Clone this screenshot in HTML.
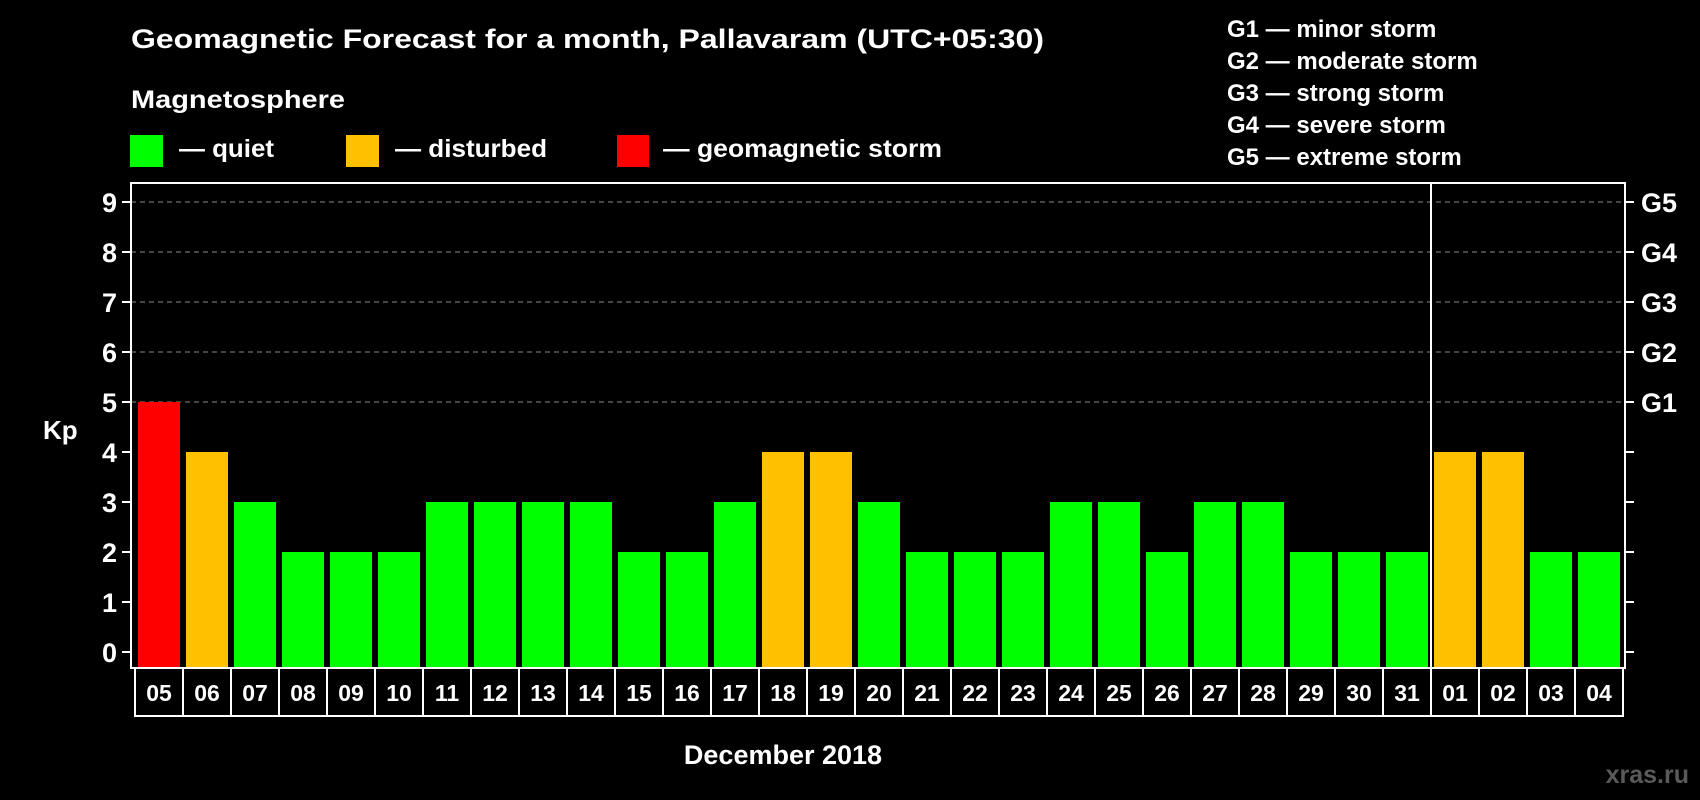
<!DOCTYPE html>
<html><head><meta charset="utf-8"><style>
html,body{margin:0;padding:0;background:#000;}
svg{display:block;font-family:"Liberation Sans",Arial,sans-serif;font-weight:bold;}
</style></head><body>
<svg id="chart" width="1700" height="800" viewBox="0 0 1700 800" xmlns="http://www.w3.org/2000/svg">
<rect x="0" y="0" width="1700" height="800" fill="#000"/>
<text x="131" y="48" font-size="27" fill="#fff" textLength="913" lengthAdjust="spacingAndGlyphs">Geomagnetic Forecast for a month, Pallavaram (UTC+05:30)</text>
<text x="131" y="108" font-size="25" fill="#fff" textLength="214" lengthAdjust="spacingAndGlyphs">Magnetosphere</text>
<g>
<rect x="130" y="135" width="33" height="32" fill="#00ff00"/>
<text x="179" y="157" font-size="25" fill="#fff" textLength="95" lengthAdjust="spacingAndGlyphs">— quiet</text>
</g>
<g>
<rect x="346" y="135" width="33" height="32" fill="#ffc000"/>
<text x="395" y="157" font-size="25" fill="#fff" textLength="152" lengthAdjust="spacingAndGlyphs">— disturbed</text>
</g>
<g>
<rect x="617" y="135" width="32" height="32" fill="#ff0000"/>
<text x="663" y="157" font-size="25" fill="#fff" textLength="279" lengthAdjust="spacingAndGlyphs">— geomagnetic storm</text>
</g>
<g font-size="24" fill="#fff">
<text x="1227" y="37">G1 — minor storm</text>
<text x="1227" y="69">G2 — moderate storm</text>
<text x="1227" y="101">G3 — strong storm</text>
<text x="1227" y="133">G4 — severe storm</text>
<text x="1227" y="165">G5 — extreme storm</text>
</g>
<text x="43" y="439" font-size="26" fill="#fff">Kp</text>
<text x="783" y="764" font-size="27" fill="#fff" text-anchor="middle">December 2018</text>
<text x="1689" y="783" font-size="25" fill="#5a5a5a" text-anchor="end">xras.ru</text>
<g id="grid"></g>
<g id="bars"></g>
<g id="axes"></g>
<g id="xlabels"></g>
</svg>
<script>
const days = ["05","06","07","08","09","10","11","12","13","14","15","16","17","18","19","20","21","22","23","24","25","26","27","28","29","30","31","01","02","03","04"];
const kpValues = [5,4,3,2,2,2,3,3,3,3,2,2,3,4,4,3,2,2,2,3,3,2,3,3,2,2,2,4,4,2,2];
const yTicks = [0,1,2,3,4,5,6,7,8,9];
const gLabels = ["G1","G2","G3","G4","G5"];
const gLevels = [5,6,7,8,9];
const monthBreakIndex = 27;

const NS = "http://www.w3.org/2000/svg";
const plotL = 131, plotR = 1625, plotT = 183, plotB = 668;
const y0 = 652, unit = 50;
const slot = 48, barOff = 138, barW = 42;
function yScale(v){ return y0 - v*unit; }
function xScale(i){ return barOff + i*slot; }
function mk(tag, attrs, parent){ const e=document.createElementNS(NS,tag); for(const k in attrs) e.setAttribute(k,attrs[k]); parent.appendChild(e); return e; }
function colorFor(v){ return v>=5 ? "#ff0000" : (v===4 ? "#ffc000" : "#00ff00"); }

const grid = document.getElementById("grid");
gLevels.forEach((lv)=>{
  const l = mk("line",{x1:plotL,x2:plotR,y1:yScale(lv),y2:yScale(lv),stroke:"#8a8a8a","stroke-width":1,"stroke-dasharray":"5,4"},grid);
  
  
});

const bars = document.getElementById("bars");
kpValues.forEach((v,i)=>{
  const r = mk("rect",{x:xScale(i),y:yScale(v),width:barW,height:plotB-yScale(v),fill:colorFor(v)},bars);
  
  
});

const axes = document.getElementById("axes");
const frame = mk("rect",{x:plotL,y:plotT,width:plotR-plotL,height:plotB-plotT,fill:"none",stroke:"#fff","stroke-width":2},axes);


const sepX = (xScale(monthBreakIndex-1)+barW + xScale(monthBreakIndex))/2;
const sep = mk("line",{x1:sepX,x2:sepX,y1:plotT,y2:plotB,stroke:"#fff","stroke-width":2},axes);


yTicks.forEach((t)=>{
  const y = yScale(t);
  const tl = mk("line",{x1:plotL-9,x2:plotL,y1:y,y2:y,stroke:"#fff","stroke-width":2},axes);
  
  
  const tr = mk("line",{x1:plotR,x2:plotR+9,y1:y,y2:y,stroke:"#fff","stroke-width":2},axes);
  
  
  const tx = mk("text",{x:117,y:y+10,"font-size":27,fill:"#fff","text-anchor":"end"},axes);
  tx.textContent = String(t);
  
  
});
gLevels.forEach((lv,i)=>{
  const tx = mk("text",{x:1641,y:yScale(lv)+10,"font-size":27,fill:"#fff"},axes);
  tx.textContent = gLabels[i];
  
  
});

const xl = document.getElementById("xlabels");
const cellL = 135, cellT = 668, cellB = 716;
days.forEach((d,i)=>{
  const c = mk("rect",{x:cellL+i*slot,y:cellT,width:slot,height:cellB-cellT,fill:"none",stroke:"#fff","stroke-width":2},xl);
  
  
  const t = mk("text",{x:cellL+i*slot+slot/2,y:701,"font-size":23,fill:"#fff","text-anchor":"middle"},xl);
  t.textContent = d;
  
  
});
</script>
</body></html>
